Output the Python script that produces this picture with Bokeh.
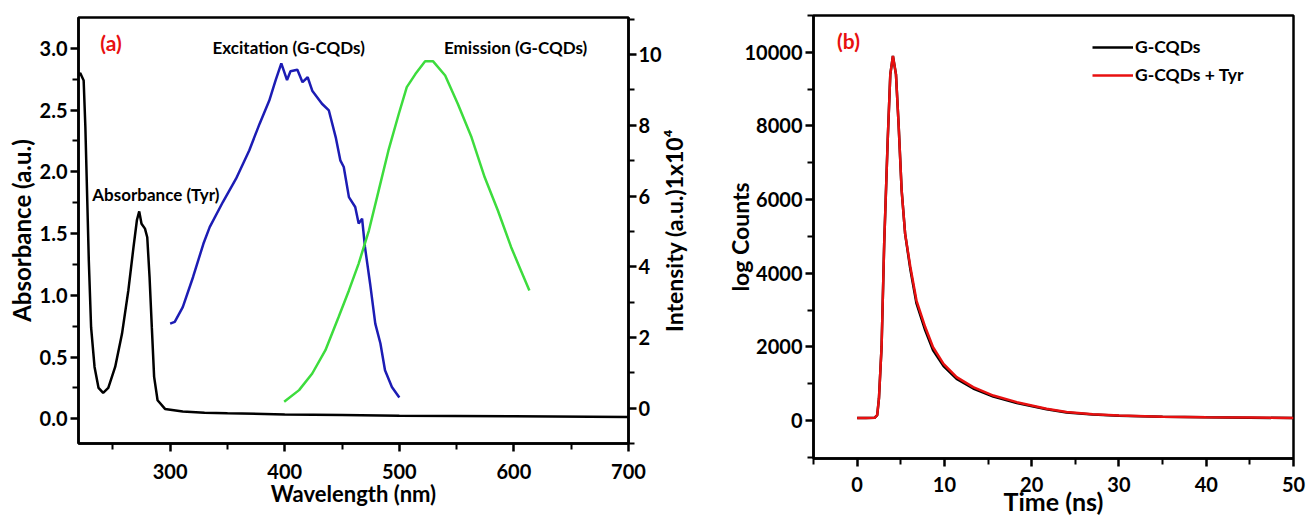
import math
from bokeh.plotting import figure
from bokeh.models import Range1d, LinearAxis, FixedTicker, NumeralTickFormatter, Label, Legend, LegendItem
from bokeh.layouts import row
from bokeh.embed import file_html
from bokeh.resources import INLINE

FONT = "Lato"

# ---------------- data (a) ----------------
abs_wl = [220, 221.5, 224.5, 226, 227.5, 229, 231, 234, 237.5, 241.5, 246, 252, 258, 263.5, 268, 271, 273,
          275, 278, 280, 282, 284, 286, 289, 295.5, 311, 330, 350, 400, 450, 500, 600, 700]
abs_val = [2.78, 2.80, 2.74, 2.36, 1.82, 1.28, 0.74, 0.42, 0.25, 0.21, 0.25, 0.42, 0.69, 1.04, 1.39, 1.61, 1.68,
           1.58, 1.54, 1.47, 1.15, 0.74, 0.34, 0.15, 0.08, 0.06, 0.05, 0.045, 0.035, 0.03, 0.025, 0.02, 0.015]

ex_wl = [300, 304, 311, 320, 329, 334.5, 346, 357.5, 369, 378, 386.5, 392, 397, 402, 405, 411, 415.5, 420, 424,
         432.5, 438.5, 444.5, 448.5, 451.5, 456, 461.5, 464.5, 467.5, 470, 474.5, 479, 483.5, 487.5, 493.5, 500]
ex_int = [2.39, 2.44, 2.86, 3.71, 4.65, 5.12, 5.83, 6.49, 7.29, 8.04, 8.70, 9.27, 9.75, 9.28, 9.53, 9.57, 9.22,
          9.36, 8.98, 8.61, 8.42, 7.66, 7.01, 6.82, 5.97, 5.69, 5.22, 5.36, 4.56, 3.52, 2.39, 1.83, 1.07, 0.60, 0.30]

em_wl = [399.5, 412.5, 424, 435.5, 447, 456, 464.5, 473.5, 482, 490.5, 499.5, 506.5, 514, 522.5, 529.5, 540,
         551, 563, 574.5, 586, 597.5, 606, 613.5]
em_int = [0.18, 0.51, 0.98, 1.64, 2.58, 3.33, 4.09, 5.03, 6.16, 7.29, 8.32, 9.08, 9.45, 9.81, 9.81, 9.41,
          8.61, 7.66, 6.53, 5.59, 4.56, 3.90, 3.33]

# ---------------- data (b) ----------------
t_ns = [0, 1, 2, 2.3, 2.5, 2.8, 3.1, 3.5, 3.8, 4.1, 4.45, 4.75, 5.1, 5.5, 6.1, 6.8, 7.8, 8.7, 9.9, 11.4,
        13.3, 15.6, 18.3, 21.7, 24, 27, 30, 35, 40, 45, 50]
counts_gcqd = [70, 72, 75, 150, 600, 2000, 4800, 7600, 9400, 9900, 9400, 8050, 6250, 5070, 4100, 3180, 2450,
               1910, 1480, 1130, 870, 650, 475, 305, 220, 165, 130, 102, 88, 78, 68]
counts_gcqd_tyr = [70, 72, 75, 150, 600, 2000, 4800, 7600, 9400, 9900, 9400, 8050, 6250, 5070, 4170, 3260,
                   2540, 1990, 1540, 1180, 910, 680, 500, 320, 230, 170, 135, 105, 90, 80, 70]

BLUE = "#1c1cb4"
GREEN = "#3ddc3d"
RED = "#e81010"


def style_axis(ax, label, label_size, tick_size="20px"):
    ax.axis_label = label
    ax.axis_label_text_font = FONT
    ax.axis_label_text_font_style = "bold"
    ax.axis_label_text_font_size = label_size
    ax.axis_label_text_color = "black"
    ax.major_label_text_font = FONT
    ax.major_label_text_font_style = "bold"
    ax.major_label_text_font_size = tick_size
    ax.major_label_text_color = "black"
    ax.axis_line_width = 2.5
    ax.axis_line_color = "black"
    ax.major_tick_line_width = 2.5
    ax.minor_tick_line_width = 2
    ax.major_tick_line_color = "black"
    ax.minor_tick_line_color = "black"
    ax.major_tick_out = 8
    ax.major_tick_in = 0
    ax.minor_tick_out = 6
    ax.minor_tick_in = 0
    ax.major_label_standoff = 3
    ax.axis_label_standoff = 1


def base_style(p):
    p.xgrid.visible = False
    p.ygrid.visible = False
    p.outline_line_color = "black"
    p.outline_line_width = 2.5
    p.outline_line_alpha = 1
    p.background_fill_color = "white"
    p.border_fill_color = "white"
    p.frame_align = False


# ---------------- panel (a) ----------------
p1 = figure(width=664, height=521, output_backend="svg", toolbar_location=None,
            x_range=Range1d(220, 700), y_range=Range1d(-0.2, 3.25),
            min_border_left=78, min_border_right=34, min_border_top=17, min_border_bottom=78)
base_style(p1)
p1.extra_y_ranges = {"int": Range1d(-1.0, 11.05)}

p1.line(abs_wl, abs_val, line_color="black", line_width=2.5)
p1.line(ex_wl, ex_int, line_color=BLUE, line_width=2.5, y_range_name="int")
p1.line(em_wl, em_int, line_color=GREEN, line_width=2.5, y_range_name="int")

xa = p1.xaxis[0]
style_axis(xa, "Wavelength (nm)", "22px")
xa.major_label_standoff = 12
xa.axis_label_standoff = -2
xa.ticker = FixedTicker(ticks=[300, 400, 500, 600, 700], minor_ticks=[250, 350, 450, 550, 650])
ya = p1.yaxis[0]
style_axis(ya, "Absorbance (a.u.)", "24px")
ya.ticker = FixedTicker(ticks=[0, 0.5, 1.0, 1.5, 2.0, 2.5, 3.0],
                        minor_ticks=[0.25, 0.75, 1.25, 1.75, 2.25, 2.75])
ya.formatter = NumeralTickFormatter(format="0.0")

ra = LinearAxis(y_range_name="int")
style_axis(ra, None, "23px")
ra.major_label_standoff = 2
ra.ticker = FixedTicker(ticks=[0, 2, 4, 6, 8, 10], minor_ticks=[-1, 1, 3, 5, 7, 9, 11])
p1.add_layout(ra, "right")

lbl_font = "17px"
p1.add_layout(Label(x=239, y=3.05, text="(a)", text_color=RED, text_font=FONT, text_font_style="bold",
                    text_font_size="21px", text_baseline="middle"))
p1.add_layout(Label(x=337, y=3.01, text="Excitation (G-CQDs)", text_color="black", text_font=FONT,
                    text_font_style="bold", text_font_size=lbl_font, text_baseline="middle"))
p1.add_layout(Label(x=539, y=3.01, text="Emission (G-CQDs)", text_color="black", text_font=FONT,
                    text_font_style="bold", text_font_size=lbl_font, text_baseline="middle"))
p1.add_layout(Label(x=232, y=1.82, text="Absorbance (Tyr)", text_color="black", text_font=FONT,
                    text_font_style="bold", text_font_size=lbl_font, text_baseline="middle"))

# narrow transparent strip that carries the right-hand title of panel (a), read bottom-to-top
p_lab = figure(width=44, height=521, output_backend="svg", toolbar_location=None,
               x_range=Range1d(0, 1), y_range=Range1d(-1.0, 11.05), x_axis_location=None,
               min_border_left=28, min_border_right=0, min_border_top=17, min_border_bottom=78)
p_lab.margin = (0, 0, 0, -8)
p_lab.xgrid.visible = False
p_lab.ygrid.visible = False
p_lab.outline_line_color = None
p_lab.background_fill_color = None
p_lab.border_fill_color = None
p_lab.frame_align = False
yl = p_lab.yaxis[0]
style_axis(yl, "Intensity (a.u.)1x10⁴", "23px")
yl.ticker = FixedTicker(ticks=[], minor_ticks=[])
yl.axis_line_color = None
yl.major_tick_out = 0
yl.minor_tick_out = 0
yl.major_label_text_font_size = "0px"
yl.axis_label_standoff = 0

# ---------------- panel (b) ----------------
p2 = figure(width=608, height=521, output_backend="svg", toolbar_location=None,
            x_range=Range1d(-5, 50), y_range=Range1d(-1030, 11000),
            min_border_left=113, min_border_right=15, min_border_top=15, min_border_bottom=63)
base_style(p2)

r_black = p2.line(t_ns, counts_gcqd, line_color="black", line_width=2.5)
r_red = p2.line(t_ns, counts_gcqd_tyr, line_color=RED, line_width=2.5)

xb = p2.xaxis[0]
style_axis(xb, "Time (ns)", "25px")
xb.major_label_standoff = 10
xb.axis_label_standoff = -9
xb.ticker = FixedTicker(ticks=[0, 10, 20, 30, 40, 50], minor_ticks=[-5, 5, 15, 25, 35, 45])
yb = p2.yaxis[0]
style_axis(yb, "log Counts", "23px")
yb.axis_label_standoff = -12
yb.ticker = FixedTicker(ticks=[0, 2000, 4000, 6000, 8000, 10000],
                        minor_ticks=[-1000, 1000, 3000, 5000, 7000, 9000, 11000])
yb.formatter = NumeralTickFormatter(format="0")

p2.add_layout(Label(x=-2.3, y=10330, text="(b)", text_color=RED, text_font=FONT, text_font_style="bold",
                    text_font_size="21px", text_baseline="middle"))

legend = Legend(items=[LegendItem(label="G-CQDs", renderers=[r_black]),
                       LegendItem(label="G-CQDs + Tyr", renderers=[r_red])],
                location=(279, 373))
legend.padding = 0
legend.margin = 0
legend.spacing = 7
legend.glyph_width = 41
legend.glyph_height = 20
legend.label_standoff = 2
legend.label_text_font = FONT
legend.label_text_font_style = "bold"
legend.label_text_font_size = "17.5px"
legend.label_text_color = "black"
legend.border_line_alpha = 0
legend.background_fill_alpha = 0
p2.add_layout(legend)

layout = row(p1, p_lab, p2)
open("out.html", "w").write(file_html(layout, INLINE))
